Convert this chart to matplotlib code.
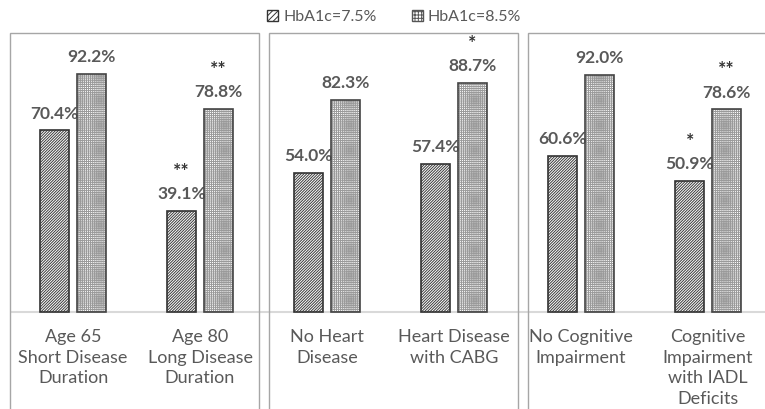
import matplotlib
matplotlib.use("Agg")
import matplotlib.pyplot as plt
from matplotlib.patches import Rectangle, Patch
import numpy as np

categories = ["Age 65\nShort Disease\nDuration",
              "Age 80\nLong Disease\nDuration",
              "No Heart\nDisease",
              "Heart Disease\nwith CABG",
              "No Cognitive\nImpairment",
              "Cognitive\nImpairment\nwith IADL\nDeficits"]
hba_75 = [70.4, 39.1, 54.0, 57.4, 60.6, 50.9]
hba_85 = [92.2, 78.8, 82.3, 88.7, 92.0, 78.6]
sig_75 = ["", "**", "", "", "", "*"]
sig_85 = ["", "**", "", "*", "", "**"]
series_names = ["HbA1c=7.5%", "HbA1c=8.5%"]

plt.rcParams['font.family'] = ['Lato', 'DejaVu Sans']
plt.rcParams['hatch.linewidth'] = 0.7

W, H = 765, 409
fig = plt.figure(figsize=(W / 100, H / 100), dpi=100)

# one axes for all bars, 127 px per category, zero line at y=312
left_px, top_px, base_px = 9.5, 33, 312
px_per_pct = 2.58
ax = fig.add_axes([left_px / W, 0, 762 / W, (H - top_px) / H])
ax.set_xlim(-0.5, 5.5)
ax.set_ylim(-(H - base_px) / px_per_pct, (base_px - top_px) / px_per_pct)
ax.axis('off')

x = np.arange(len(categories))
bw = 29 / 127
off = 18.2 / 127
grey_txt = '#595959'

# hatch fill first, dark outline on top
ax.bar(x - off, hba_75, width=bw, color='white', edgecolor='#3a3a3a',
       hatch='/' * 12, linewidth=0, zorder=3)
ax.bar(x + off, hba_85, width=bw, color='white', edgecolor='#9a9a9a',
       hatch='+' * 8, linewidth=0, zorder=3)
ax.bar(x - off, hba_75, width=bw, fill=False, edgecolor='#333333', linewidth=1.2, zorder=4)
ax.bar(x + off, hba_85, width=bw, fill=False, edgecolor='#444444', linewidth=1.2, zorder=4)
ax.axhline(0, color='#d9d9d9', lw=1.5, zorder=1)

for xs, vals, sigs in [(x - off, hba_75, sig_75), (x + off, hba_85, sig_85)]:
    for xi, v, s in zip(xs, vals, sigs):
        ax.annotate(f"{v:.1f}%", (xi, v), xytext=(0, 12), textcoords='offset points',
                    ha='center', va='center', fontsize=12.5, fontweight='bold', color=grey_txt)
        if s:
            ax.annotate(s, (xi, v), xytext=(0, 28.5), textcoords='offset points',
                        ha='center', va='center', fontsize=14, fontweight='bold', color='#333333')

for xi, lab in zip(x, categories):
    ax.text(xi, -17 / px_per_pct, lab, ha='center', va='top', fontsize=13,
            color=grey_txt, linespacing=1.35)

# panel frames
for pl, pr in [(10, 259), (269, 518), (528, 790)]:
    fig.add_artist(Rectangle((pl / W, -0.05), (pr - pl) / W, 1.05 - top_px / H,
                             transform=fig.transFigure, fill=False,
                             edgecolor='#a6a6a6', lw=1.0))

handles = [Patch(facecolor='white', edgecolor='#333333', hatch='/' * 6, lw=1),
           Patch(facecolor='white', edgecolor='#555555', hatch='+' * 5, lw=1)]
leg = fig.legend(handles=handles, labels=series_names, loc='center',
                 bbox_to_anchor=(394 / W, 1 - 17 / H), ncol=2, frameon=False,
                 fontsize=11.5, handlelength=0.7, handleheight=0.7,
                 handletextpad=0.3, columnspacing=2.2)
for t in leg.get_texts():
    t.set_color(grey_txt)

fig.savefig("out.png", dpi=100)
